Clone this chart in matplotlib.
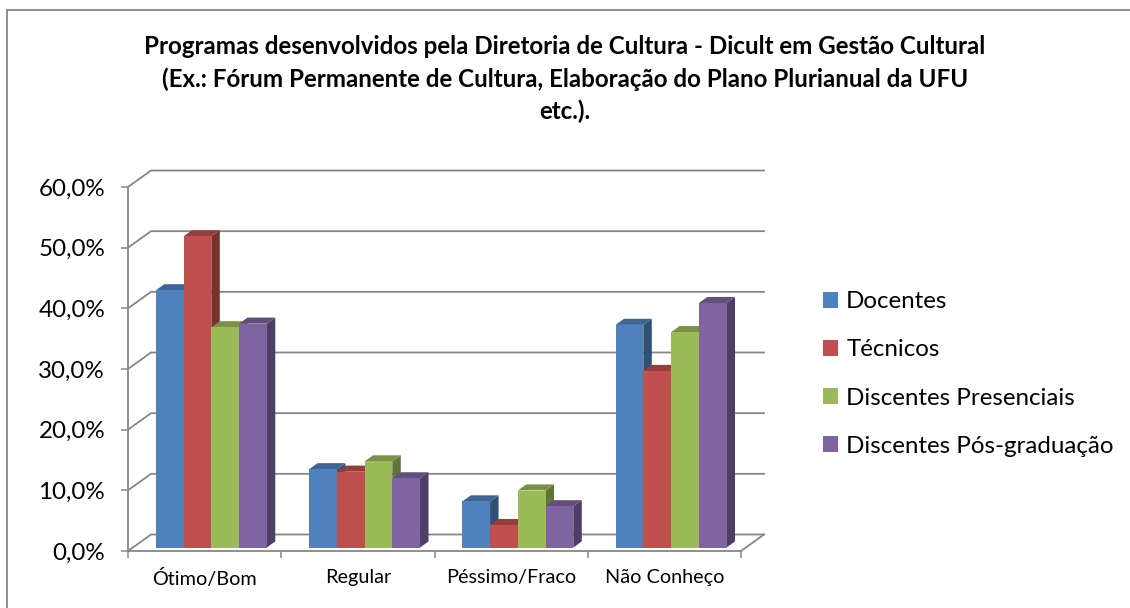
import matplotlib.pyplot as plt
from matplotlib.patches import Polygon, Patch
from matplotlib.lines import Line2D
from matplotlib.colors import to_rgb

plt.rcParams['font.family'] = ['Lato', 'DejaVu Sans']

# dados (%)
categorias = ['Ótimo/Bom', 'Regular', 'Péssimo/Fraco', 'Não Conheço']
series = ['Docentes', 'Técnicos', 'Discentes Presenciais', 'Discentes Pós-graduação']
docentes = [42.4, 12.9, 7.6, 36.7]
tecnicos = [51.3, 12.5, 3.7, 29.1]
presenciais = [36.3, 14.2, 9.4, 35.5]
pos_grad = [36.9, 11.4, 6.8, 40.3]
valores = [docentes, tecnicos, presenciais, pos_grad]
yticks = [0, 10, 20, 30, 40, 50, 60]
ytick_labels = ['0,0%', '10,0%', '20,0%', '30,0%', '40,0%', '50,0%', '60,0%']

cores = ['#4F81BD', '#C0504D', '#9BBB59', '#8064A2']
cinza = '#868686'

titulo = ('Programas desenvolvidos pela Diretoria de Cultura - Dicult em Gestão Cultural\n'
          '(Ex.: Fórum Permanente de Cultura, Elaboração do Plano Plurianual da UFU\n'
          'etc.).')

W, H = 1130, 608
fig = plt.figure(figsize=(W / 100, H / 100), dpi=100)

# eixo = plano frontal do gráfico 3D
ax = fig.add_axes([128 / W, 57 / H, 613 / W, 364 / H])
ax.set_xlim(0, 4)
ax.set_ylim(0, 60)

# profundidade (pseudo 3D) em unidades de dados
DX = 23 / (613 / 4)
DY = 16.5 / (364 / 60)

# parede do fundo + linhas de grade
for v in yticks:
    ax.plot([0, DX, 4 + DX], [v, v + DY, v + DY], color=cinza, lw=1.3,
            clip_on=False, zorder=1)
ax.plot([4, 4 + DX], [0, DY], color=cinza, lw=1.3, clip_on=False, zorder=1)


def escurece(c, f):
    r, g, b = to_rgb(c)
    return (r * f, g * f, b * f)


z0, z1 = 0.21, 0.58
ox, oy = z0 * DX, z0 * DY
ddx, ddy = (z1 - z0) * DX, (z1 - z0) * DY
bw = 0.181
inicio = 0.15

z = 2
for i in range(len(categorias)):
    for j, serie in enumerate(valores):
        h = serie[i]
        x0 = i + inicio + j * bw
        xl, xr = x0 + ox, x0 + bw + ox
        frente = [(xl, oy), (xr, oy), (xr, h + oy), (xl, h + oy)]
        topo = [(xl, h + oy), (xr, h + oy), (xr + ddx, h + oy + ddy), (xl + ddx, h + oy + ddy)]
        lado = [(xr, oy), (xr + ddx, oy + ddy), (xr + ddx, h + oy + ddy), (xr, h + oy)]
        ax.add_patch(Polygon(lado, closed=True, fc=escurece(cores[j], 0.62), ec='none',
                             clip_on=False, zorder=z))
        ax.add_patch(Polygon(topo, closed=True, fc=escurece(cores[j], 0.78), ec='none',
                             clip_on=False, zorder=z + 1))
        ax.add_patch(Polygon(frente, closed=True, fc=cores[j], ec='none',
                             clip_on=False, zorder=z + 2))
        z += 3

for s in ['top', 'right']:
    ax.spines[s].set_visible(False)
for s in ['left', 'bottom']:
    ax.spines[s].set_color(cinza)
    ax.spines[s].set_linewidth(1.3)
    ax.spines[s].set_zorder(100)

ax.set_yticks(yticks)
ax.set_yticklabels(ytick_labels, fontsize=17.4)
ax.tick_params(axis='y', length=5, width=1.1, color=cinza, pad=11.5)

ax.set_xticks(range(5))
ax.set_xticklabels([''] * 5)
ax.set_xticks([i + 0.5 for i in range(4)], minor=True)
ax.set_xticklabels(categorias, minor=True, fontsize=14.3)
ax.tick_params(axis='x', which='major', length=5, width=1.1, color=cinza)
ax.tick_params(axis='x', which='minor', length=0, pad=13)

fig.text(565 / W, 1 - 35 / H, titulo, ha='center', va='top', fontsize=17.4,
         fontweight='bold', linespacing=1.47)

handles = [Patch(facecolor=c, edgecolor='none') for c in cores]
fig.legend(handles, series, loc='center left', bbox_to_anchor=(801 / W, 1 - 374 / H),
           frameon=False, fontsize=17.4, handlelength=0.62, handleheight=0.62,
           handletextpad=0.35, labelspacing=1.12)

# borda do gráfico (apenas esquerda e topo visíveis)
fig.add_artist(Line2D([7 / W, 7 / W], [0, 1 - 10 / H], color=cinza, lw=1.3))
fig.add_artist(Line2D([7 / W, 1], [1 - 10 / H, 1 - 10 / H], color=cinza, lw=1.3))

fig.savefig('out.png', dpi=100, facecolor='white')
